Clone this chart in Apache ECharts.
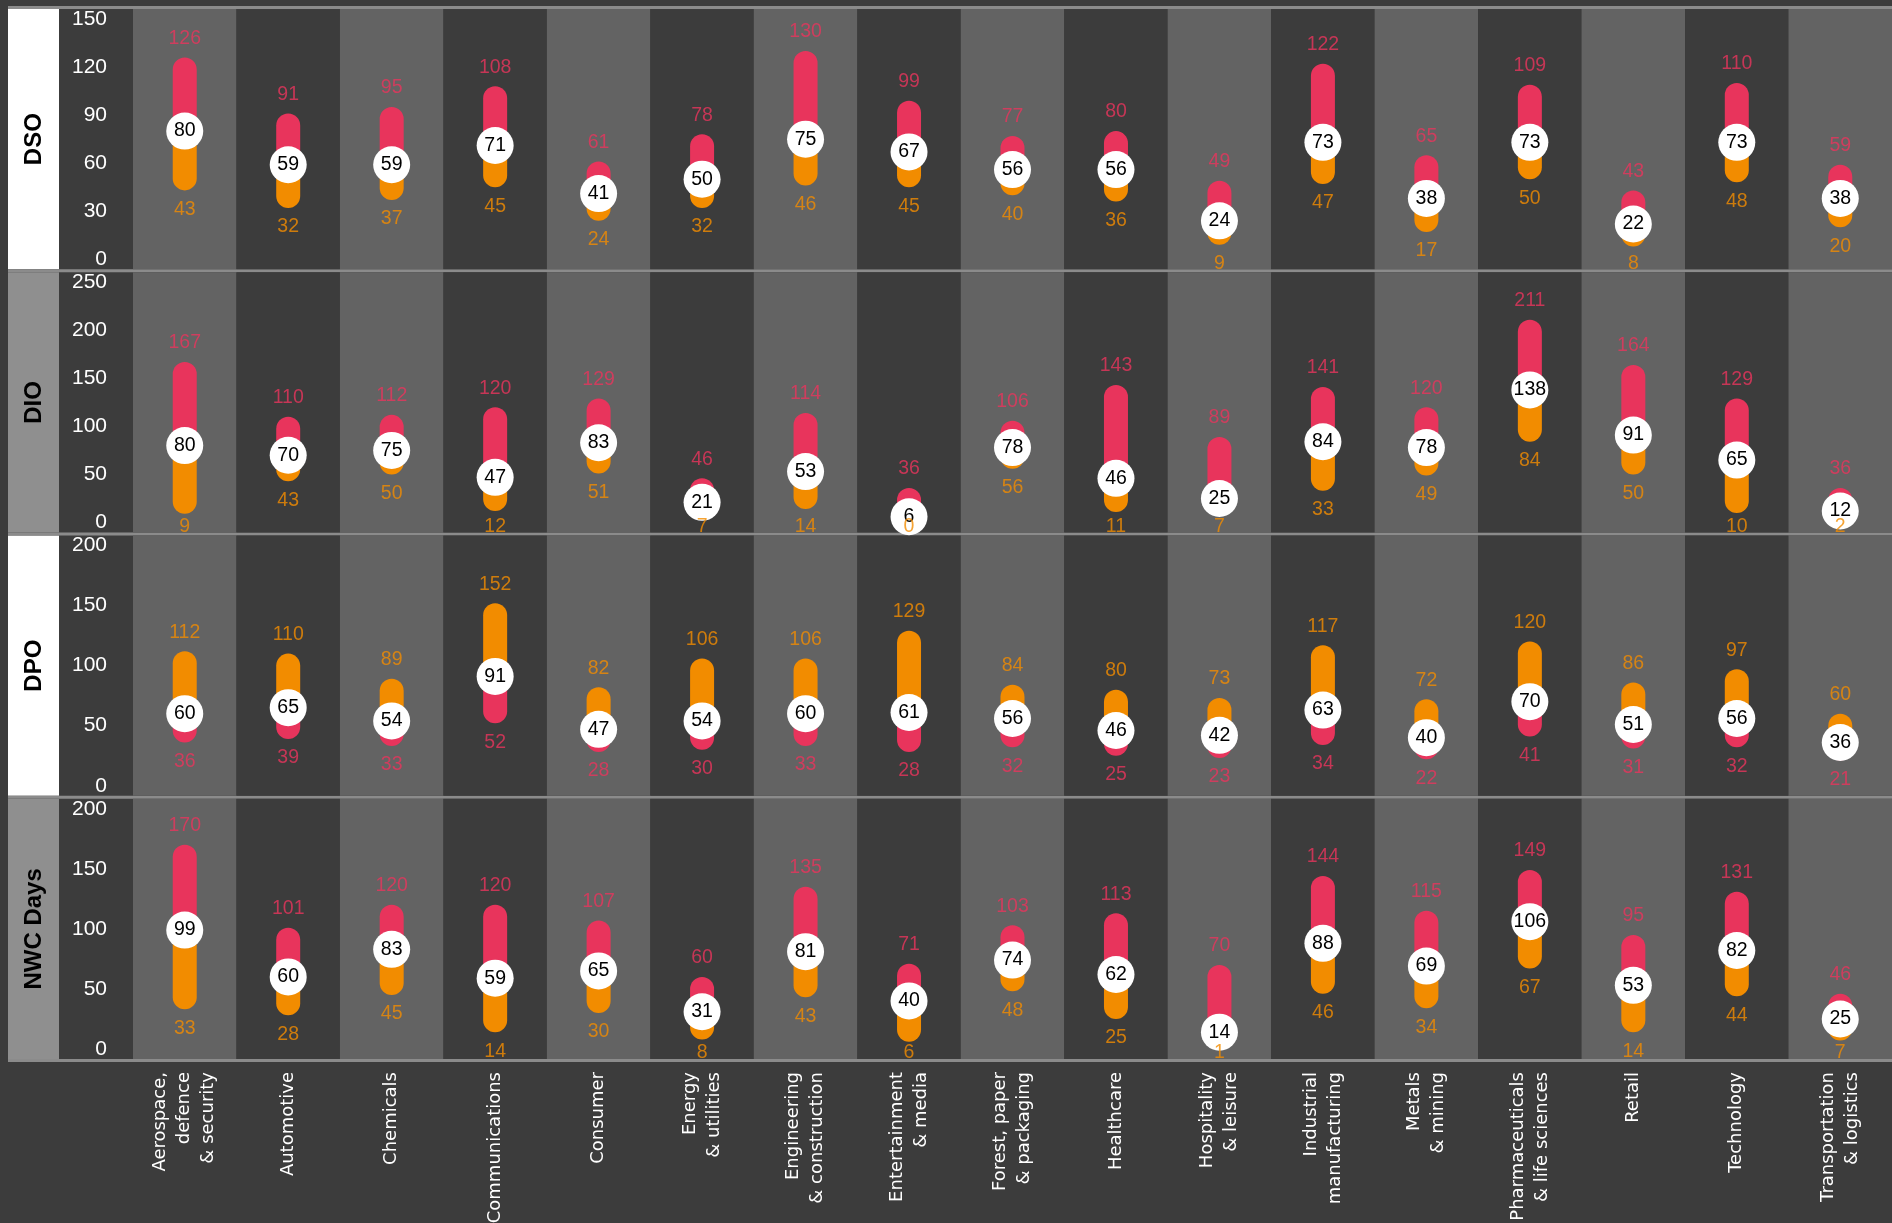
<!DOCTYPE html>
<html>
<head>
<meta charset="utf-8">
<script src="https://cdn.jsdelivr.net/npm/echarts@6/dist/echarts.min.js"></script>
<style>
html,body{margin:0;padding:0;background:#3c3c3c;}
#chart{width:1892px;height:1223px;}
</style>
</head>
<body>
<div id="chart"></div>
<script>
// ---------------- data ----------------
const categories = [
  'Aerospace,\ndefence\n& security', 'Automotive', 'Chemicals', 'Communications', 'Consumer',
  'Energy\n& utilities', 'Engineering\n& construction', 'Entertainment\n& media',
  'Forest, paper\n& packaging', 'Healthcare', 'Hospitality\n& leisure', 'Industrial\nmanufacturing',
  'Metals\n& mining', 'Pharmaceuticals\n& life sciences', 'Retail', 'Technology',
  'Transportation\n& logistics'
];
const panelTitles = ['DSO', 'DIO', 'DPO', 'NWC Days'];
const axisMax = [150, 250, 200, 200];
const axisInterval = [30, 50, 50, 50];

const dsoMax = [126, 91, 95, 108, 61, 78, 130, 99, 77, 80, 49, 122, 65, 109, 43, 110, 59];
const dsoMed = [80, 59, 59, 71, 41, 50, 75, 67, 56, 56, 24, 73, 38, 73, 22, 73, 38];
const dsoMin = [43, 32, 37, 45, 24, 32, 46, 45, 40, 36, 9, 47, 17, 50, 8, 48, 20];

const dioMax = [167, 110, 112, 120, 129, 46, 114, 36, 106, 143, 89, 141, 120, 211, 164, 129, 36];
const dioMed = [80, 70, 75, 47, 83, 21, 53, 6, 78, 46, 25, 84, 78, 138, 91, 65, 12];
const dioMin = [9, 43, 50, 12, 51, 7, 14, 0, 56, 11, 7, 33, 49, 84, 50, 10, 2];

const dpoMax = [112, 110, 89, 152, 82, 106, 106, 129, 84, 80, 73, 117, 72, 120, 86, 97, 60];
const dpoMed = [60, 65, 54, 91, 47, 54, 60, 61, 56, 46, 42, 63, 40, 70, 51, 56, 36];
const dpoMin = [36, 39, 33, 52, 28, 30, 33, 28, 32, 25, 23, 34, 22, 41, 31, 32, 21];

const nwcMax = [170, 101, 120, 120, 107, 60, 135, 71, 103, 113, 70, 144, 115, 149, 95, 131, 46];
const nwcMed = [99, 60, 83, 59, 65, 31, 81, 40, 74, 62, 14, 88, 69, 106, 53, 82, 25];
const nwcMin = [33, 28, 45, 14, 30, 8, 43, 6, 48, 25, 1, 46, 34, 67, 14, 44, 7];

// ---------------- style / layout ----------------
const RED = '#e8345c';
const ORANGE = '#f28c00';
const DARK = '#3c3c3c';
const LIGHT = '#636363';
const SEP = '#8b8b8b';
const SIDE_GRAY = '#8f8f8f';
const NARROW = "'Liberation Sans Narrow', 'Arial Narrow', 'Liberation Sans', sans-serif";

const W = 1892;
const GRID_LEFT = 133;
const PANEL_TOP0 = 9;
const PANEL_STEP = 263.25;
const PANEL_H = 260.25;
const INSET = 10;
const DATA_H = PANEL_H - 2 * INSET;

const panels = [
  { max: dsoMax, med: dsoMed, min: dsoMin, up: RED, low: ORANGE },
  { max: dioMax, med: dioMed, min: dioMin, up: RED, low: ORANGE },
  { max: dpoMax, med: dpoMed, min: dpoMin, up: ORANGE, low: RED },
  { max: nwcMax, med: nwcMed, min: nwcMin, up: RED, low: ORANGE }
];

const grids = [], xAxes = [], yAxes = [], series = [], graphics = [];

panels.forEach((p, i) => {
  const top = PANEL_TOP0 + i * PANEL_STEP;
  // background grid (columns)
  grids.push({ left: GRID_LEFT, right: 0, top: top, height: PANEL_H, outerBoundsMode: 'none' });
  xAxes.push({
    type: 'category', gridIndex: i, data: categories, boundaryGap: true,
    axisLine: { show: false }, axisTick: { show: false },
    axisLabel: i === 3 ? {
      show: true, interval: 0, rotate: 90, margin: 13, color: '#ffffff',
      fontFamily: "'DejaVu Sans', Verdana, sans-serif", fontSize: 18, lineHeight: 24
    } : { show: false },
    splitLine: { show: false },
    splitArea: { show: true, interval: 0, areaStyle: { color: [LIGHT, DARK] } }
  });
  yAxes.push({ type: 'value', gridIndex: i, show: false, min: 0, max: 1 });
});

panels.forEach((p, i) => {
  const top = PANEL_TOP0 + i * PANEL_STEP + INSET;
  const gi = 4 + i;
  grids.push({ left: GRID_LEFT, right: 0, top: top, height: DATA_H, outerBoundsMode: 'none' });
  xAxes.push({ type: 'category', gridIndex: gi, data: categories, show: false, boundaryGap: true });
  yAxes.push({
    type: 'value', gridIndex: gi, min: 0, max: axisMax[i], interval: axisInterval[i],
    axisLine: { show: false }, axisTick: { show: false }, splitLine: { show: false },
    axisLabel: { color: '#ffffff', fontSize: 21, margin: 26, fontFamily: "'Liberation Sans', Arial, sans-serif" }
  });
  const pxPerUnit = DATA_H / axisMax[i];
  const stack = 's' + i;
  series.push({
    type: 'bar', xAxisIndex: gi, yAxisIndex: gi, stack: stack, barWidth: 24, silent: true,
    itemStyle: { color: 'transparent' }, data: p.min.slice(), z: 2
  });
  series.push({
    type: 'bar', xAxisIndex: gi, yAxisIndex: gi, stack: stack, barWidth: 24, silent: true,
    itemStyle: { color: p.low, borderRadius: [0, 0, 12, 12] },
    data: p.med.map((m, k) => m - p.min[k]), z: 2
  });
  series.push({
    type: 'bar', xAxisIndex: gi, yAxisIndex: gi, stack: stack, barWidth: 24, silent: true,
    itemStyle: { color: p.up, borderRadius: [12, 12, 0, 0] },
    data: p.max.map((m, k) => m - p.med[k]), z: 2
  });
  // median circles
  series.push({
    type: 'scatter', xAxisIndex: gi, yAxisIndex: gi, symbol: 'circle', symbolSize: 37, silent: true,
    itemStyle: { color: '#ffffff', opacity: 1 }, z: 3,
    label: { show: true, position: 'inside', color: '#000000', fontSize: 19.5, fontFamily: NARROW },
    data: p.med.slice()
  });
  // max labels
  series.push({
    type: 'scatter', xAxisIndex: gi, yAxisIndex: gi, symbolSize: 1, silent: true,
    itemStyle: { color: 'transparent' }, z: 4,
    label: { show: true, position: 'inside', offset: [0, -19], color: p.up, fontSize: 19.5, fontFamily: NARROW },
    data: p.max.slice()
  });
  // min labels
  series.push({
    type: 'scatter', xAxisIndex: gi, yAxisIndex: gi, symbolSize: 1, silent: true,
    itemStyle: { color: 'transparent' }, z: 4,
    label: { show: true, position: 'inside', color: p.low, fontSize: 19.5, fontFamily: NARROW },
    data: p.min.map(v => ({ value: v, label: { offset: [0, Math.min(19, 4 + v * pxPerUnit)] } }))
  });

  // side panel & title
  const pTop = PANEL_TOP0 + i * PANEL_STEP;
  graphics.push({
    type: 'rect', left: 8, top: pTop, silent: true, z: 0,
    shape: { width: 51, height: PANEL_H }, style: { fill: i % 2 === 0 ? '#ffffff' : SIDE_GRAY }
  });
  graphics.push({
    type: 'text', x: 34, y: pTop + PANEL_H / 2, rotation: Math.PI / 2, silent: true, z: 1,
    style: { text: panelTitles[i], fill: '#000000', font: "bold 24px 'Liberation Sans', Arial, sans-serif",
      textAlign: 'center', textVerticalAlign: 'middle' }
  });
});

for (let k = 0; k < 5; k++) {
  graphics.push({
    type: 'rect', left: 8, top: PANEL_TOP0 - 3 + k * PANEL_STEP, silent: true, z: 0,
    shape: { width: W - 8, height: 3 }, style: { fill: SEP }
  });
}

const chart = echarts.init(document.getElementById('chart'), null, { renderer: 'canvas' });
chart.setOption({
  backgroundColor: DARK,
  animation: false,
  grid: grids,
  xAxis: xAxes,
  yAxis: yAxes,
  series: series,
  graphic: graphics
});
</script>
</body>
</html>
